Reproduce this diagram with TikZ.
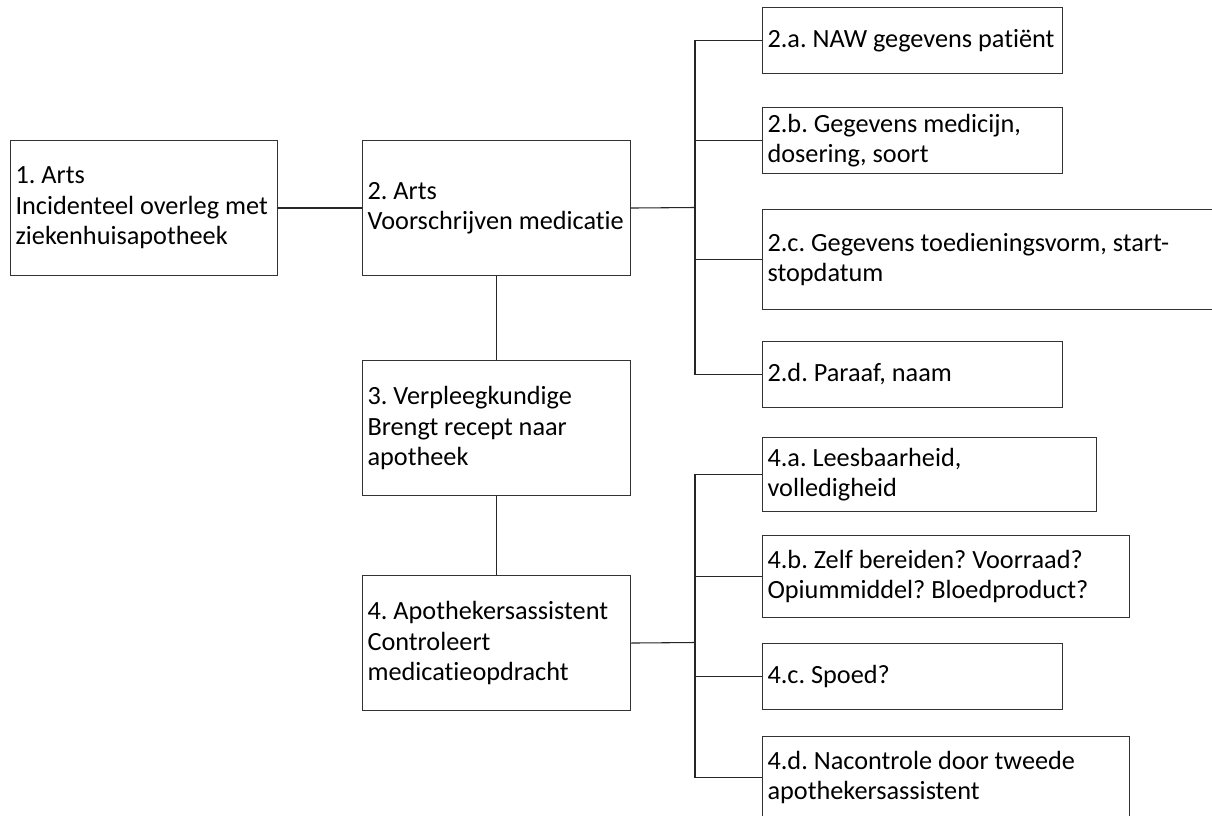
\documentclass[tikz,border=0pt]{standalone}
\usepackage{fontspec}
\setmainfont{Carlito}[Ligatures={NoCommon}]
\frenchspacing
\begin{document}
\begin{tikzpicture}[x=0.75pt,y=-0.75pt,
  box/.style={draw=black!80, line width=0.8pt, rectangle, anchor=north west,
    inner xsep=3.75pt, inner ysep=0pt, align=flush left,
    font=\fontsize{19.7pt}{22.9pt}\selectfont},
  link/.style={draw=black!85, line width=0.8pt}]
\useasboundingbox (0,0) rectangle (1212,816);
\clip (0,0) rectangle (1212,816);
\fill[white] (0,0) rectangle (1212,816);

% main chain
\node[box, text width=192.75pt, minimum height=101.25pt] (b1) at (10,140)
  {1. Arts\\Incidenteel overleg met\\ziekenhuisapotheek};
\node[box, text width=193.5pt, minimum height=101.25pt] (b2) at (362,140)
  {2. Arts\\Voorschrijven medicatie};
\node[box, text width=193.5pt, minimum height=101.25pt] (b3) at (362,360)
  {3. Verpleegkundige\\Brengt recept naar\\apotheek};
\node[box, text width=193.5pt, minimum height=101.25pt] (b4) at (362,575)
  {4. Apothekersassistent\\Controleert\\medicatieopdracht};

% details of step 2
\node[box, text width=217.5pt, minimum height=49.5pt] (b2a) at (762,7)
  {2.a. NAW gegevens patiënt};
\node[box, text width=217.5pt, minimum height=49.5pt] (b2b) at (762,107)
  {2.b. Gegevens medicijn,\\dosering, soort};
\node[box, text width=343.5pt, minimum height=75pt] (b2c) at (762,209)
  {2.c. Gegevens toedieningsvorm, start-\\stopdatum};
\node[box, text width=217.5pt, minimum height=49.5pt] (b2d) at (762,341)
  {2.d. Paraaf, naam};

% details of step 4
\node[box, text width=243pt, minimum height=55.5pt] (b4a) at (762,437)
  {4.a. Leesbaarheid,\\volledigheid};
\node[box, text width=267.75pt, minimum height=61.5pt] (b4b) at (762,535)
  {4.b. Zelf bereiden? Voorraad?\\Opiummiddel? Bloedproduct?};
\node[box, text width=217.5pt, minimum height=49.5pt] (b4c) at (762,643)
  {4.c. Spoed?};
\node[box, text width=267.75pt, minimum height=61.5pt] (b4d) at (762,736)
  {4.d. Nacontrole door tweede\\apothekersassistent};

% connectors
\draw[link] (b1.east) -- (b2.west);
\draw[link] (b2.south) -- (b3.north);
\draw[link] (b3.south) -- (b4.north);

\coordinate (j2) at (695,207.5);
\draw[link] (b2.east) -- (j2);
\foreach \t in {b2a,b2b,b2c,b2d} \draw[link] (j2) |- (\t.west);

\coordinate (j4) at (695,642.5);
\draw[link] (b4.east) -- (j4);
\foreach \t in {b4a,b4b,b4c,b4d} \draw[link] (j4) |- (\t.west);
\end{tikzpicture}
\end{document}
